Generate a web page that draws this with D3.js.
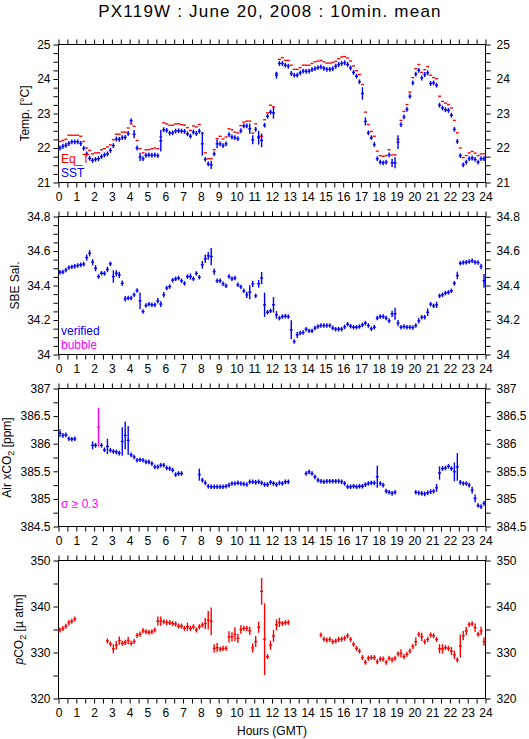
<!DOCTYPE html>
<html><head><meta charset="utf-8">
<script src="https://cdn.jsdelivr.net/npm/d3@7"></script>
<style>
body{margin:0;background:#fff;}
svg{display:block;font-family:"Liberation Sans",Arial,Helvetica,sans-serif;}
</style>
</head><body>
<svg id="chart" width="529" height="739"></svg>
<script>
// ---------- DATA (10-minute means, index i -> i/6 .. (i+1)/6 hours GMT) ----------
const hourTicks = d3.range(0, 25);               // x tick labels 0..24
const tempTicks = [21, 22, 23, 24, 25];
const salTicks  = [34, 34.2, 34.4, 34.6, 34.8];
const xco2Ticks = [384.5, 385, 385.5, 386, 386.5, 387];
const pco2Ticks = [320, 330, 340, 350];

const eqT = [
 22.19,22.22,22.25,22.37,22.37,22.37,22.37,22.34,22.19,22.00,21.93,21.83,
 21.86,21.86,21.95,21.98,22.03,22.09,22.24,22.40,22.40,22.46,22.46,22.58,
 22.70,22.63,22.22,21.98,21.86,21.95,21.95,21.98,22.00,21.98,22.32,22.73,
 22.70,22.66,22.66,22.70,22.70,22.68,22.66,22.59,22.51,22.64,22.61,22.68,
 22.43,21.86,21.69,21.69,21.95,22.27,22.34,22.26,22.32,22.56,22.53,22.46,
 22.44,22.65,22.75,22.78,22.78,22.43,22.70,22.34,22.34,22.82,23.02,23.24,
 23.19,24.16,24.57,24.62,24.54,24.54,24.40,24.28,24.28,24.33,24.40,24.40,
 24.40,24.45,24.50,24.52,24.54,24.50,24.46,24.46,24.48,24.51,24.59,24.64,
 24.65,24.61,24.52,24.38,24.24,24.13,23.84,23.04,22.68,22.48,22.34,21.91,
 21.78,21.76,21.78,21.95,21.80,21.80,22.25,22.80,23.06,23.26,23.62,24.04,
 24.30,24.42,24.19,24.27,24.36,24.11,24.04,24.01,23.50,23.35,23.30,23.26,
 23.16,22.80,22.44,22.00,21.72,21.78,21.86,21.90,21.85,21.78,21.83,21.83];

const sst = [
 22.00,22.05,22.08,22.13,22.18,22.18,22.18,22.13,21.99,21.83,21.70,21.64,
 21.67,21.69,21.75,21.80,21.83,21.93,22.07,22.26,22.25,22.30,22.31,22.42,
 22.79,22.40,22.00,21.74,21.69,21.79,21.80,21.79,21.80,21.78,22.21,22.53,
 22.51,22.43,22.44,22.49,22.50,22.49,22.48,22.41,22.34,22.46,22.42,22.49,
 22.12,21.67,21.54,21.51,21.83,22.12,22.12,22.07,22.12,22.39,22.32,22.30,
 22.27,22.50,22.64,22.64,22.56,22.24,22.54,22.30,22.22,22.66,22.92,23.04,
 23.02,24.11,24.45,24.45,24.40,24.37,24.16,24.11,24.11,24.18,24.23,24.22,
 24.23,24.27,24.30,24.33,24.35,24.31,24.28,24.28,24.30,24.37,24.42,24.45,
 24.47,24.42,24.32,24.19,24.08,23.92,23.58,22.77,22.44,22.30,22.10,21.69,
 21.59,21.57,21.59,21.80,21.57,21.57,22.17,22.68,22.90,23.12,23.50,23.89,
 24.14,24.25,24.03,24.13,24.18,23.87,23.89,23.82,23.24,23.16,23.11,23.09,
 22.95,22.54,22.19,21.78,21.51,21.59,21.69,21.71,21.67,21.59,21.69,21.69];
const sstErrTypical = 0.07;
const sstErrLarge = [[25,0.12],[27,0.12],[34,0.31],[48,0.34],[51,0.12],[53,0.13],[64,0.15],[65,0.13],
 [67,0.2],[68,0.2],[72,0.17],[73,0.1],[102,0.18],[103,0.12],[112,0.12],[113,0.16],[114,0.2]];

const sal = [
 34.477,34.478,34.490,34.504,34.508,34.512,34.516,34.520,34.524,34.562,34.587,34.535,
 34.500,34.452,34.471,34.470,34.493,34.526,34.452,34.471,34.462,34.413,34.323,34.327,
 34.327,34.346,34.371,34.311,34.249,34.284,34.292,34.288,34.288,34.311,34.292,34.346,
 34.385,34.394,34.431,34.439,34.443,34.427,34.412,34.452,34.452,34.439,34.470,34.448,
 34.520,34.555,34.572,34.568,34.481,34.427,34.427,34.410,34.398,34.452,34.439,34.443,
 34.404,34.392,34.369,34.346,34.361,34.410,34.340,34.410,34.443,34.288,34.245,34.253,
 34.288,34.230,34.211,34.220,34.222,34.220,34.143,34.075,34.114,34.124,34.128,34.147,
 34.137,34.137,34.153,34.162,34.168,34.168,34.168,34.168,34.153,34.147,34.147,34.147,
 34.160,34.176,34.164,34.158,34.158,34.162,34.172,34.182,34.168,34.149,34.158,34.211,
 34.220,34.220,34.211,34.195,34.236,34.236,34.182,34.158,34.162,34.158,34.158,34.157,
 34.168,34.195,34.216,34.216,34.245,34.292,34.282,34.288,34.340,34.346,34.356,34.360,
 34.369,34.413,34.458,34.529,34.533,34.535,34.539,34.543,34.535,34.533,34.510,34.427];
const salErrTypical = 0.013;
const salErrLarge = [[9,0.018],[10,0.018],[11,0.018],[12,0.018],[16,0.016],[18,0.036],[19,0.018],[20,0.018],
 [21,0.016],[22,0.016],[27,0.048],[33,0.016],[34,0.016],[35,0.016],[44,0.018],[48,0.022],[49,0.025],
 [50,0.022],[51,0.05],[52,0.018],[63,0.018],[64,0.04],[65,0.018],[67,0.022],[68,0.035],[69,0.07],
 [72,0.045],[73,0.022],[78,0.055],[80,0.018],[112,0.018],[113,0.035],[114,0.018],
 [121,0.016],[124,0.022],[127,0.018],[134,0.022],[142,0.016],[143,0.04]];

const xco2 = [
 386.19,386.15,386.16,386.09,386.08,386.09,null,null,null,null,null,385.97,
 385.97,386.30,385.97,385.89,385.95,385.88,385.86,385.85,385.83,386.04,386.15,386.06,
 385.80,385.76,385.70,385.71,385.70,385.67,385.67,385.64,385.58,385.58,385.61,385.61,
 385.56,385.55,385.52,385.44,385.46,385.46,null,null,null,null,null,385.44,
 385.34,385.29,385.23,385.22,385.22,385.22,385.22,385.22,385.23,385.25,385.28,385.28,
 385.29,385.28,385.27,385.26,385.31,385.31,385.30,385.31,385.29,385.26,385.26,385.30,
 385.28,385.26,385.29,385.28,385.31,385.31,null,null,null,null,null,385.46,
 385.49,385.46,385.40,385.34,385.32,385.31,385.32,385.32,385.32,385.32,385.32,385.31,
 385.28,385.22,385.22,385.23,385.22,385.23,385.23,385.26,385.28,385.29,385.29,385.40,
 385.28,385.25,385.14,385.12,385.10,385.12,null,null,null,null,null,null,
 385.12,385.11,385.10,385.09,385.11,385.13,385.14,385.20,385.47,385.55,385.56,385.59,
 385.55,385.49,385.58,385.30,385.28,385.28,385.25,385.16,385.01,384.88,384.86,384.92];
const xco2ErrTypical = 0.042;
const xco2ErrLarge = [[0,0.07],[11,0.07],[13,0.35],[16,0.14],[21,0.26],[22,0.25],[23,0.26],
 [47,0.11],[107,0.2],[127,0.07],[128,0.12],[133,0.17],[134,0.25],[139,0.06],[140,0.07]];

const pco2 = [
 334.9,335.2,335.7,336.5,336.8,337.3,null,null,null,null,null,null,
 null,null,null,null,332.5,331.85,330.8,331.6,332.6,332.0,332.2,332.6,
 332.0,332.4,333.7,334.0,334.75,334.5,334.4,334.5,334.9,336.8,336.8,336.7,
 336.55,336.5,336.3,336.2,335.75,335.75,335.25,335.6,335.25,335.6,334.9,335.6,
 336.0,336.3,337.0,336.8,330.9,331.05,330.7,330.9,330.9,333.4,333.4,334.0,
 333.1,335.0,335.25,335.25,334.7,331.0,332.4,335.5,343.3,332.9,329.1,331.6,
 333.6,336.0,336.55,336.3,336.5,336.55,null,null,null,null,null,null,
 null,null,null,null,333.8,332.9,332.7,332.85,332.35,332.5,332.85,332.9,
 333.1,333.65,332.85,331.8,330.9,330.3,328.9,327.9,328.75,328.9,328.9,328.0,
 328.6,328.6,327.9,328.75,328.4,328.75,329.7,329.8,329.1,329.6,330.3,331.3,
 332.35,333.95,333.4,332.35,332.85,333.8,333.65,332.85,330.8,330.8,331.05,330.9,
 330.3,329.5,328.4,331.4,333.65,334.7,336.1,336.25,335.4,333.95,334.7,332.35];
const pco2ErrTypical = 0.55;
const pco2ErrLarge = [[18,1.0],[19,0.9],[20,0.9],[23,0.8],[33,1.0],[34,1.0],[43,0.9],[49,1.2],
 [50,2.0],[51,3.0],[52,0.9],[53,1.0],[57,1.2],[58,1.0],[59,1.5],[60,1.0],[61,0.9],[64,0.9],
 [65,1.0],[66,1.2],[67,1.2],[68,2.9],[69,7.8],[71,1.0],[72,1.3],[73,1.2],[74,1.0],[115,0.9],
 [120,0.9],[122,0.9],[128,1.0],[129,1.0],[132,0.9],[133,0.9],[135,2.5],[136,1.0],[137,0.9],
 [140,0.9],[142,0.9],[143,0.9]];

// ---------- RENDER ----------
const RED = "#ff0000", BLUE = "#0000ff", MAGENTA = "#ff00ff";
const svg = d3.select("#chart");
const x = d3.scaleLinear().domain([0, 24]).range([58.5, 485.5]);
const PH = 138;
const fmt = d => String(+(+d).toFixed(3));

function errList(vals, typical, large) {
  const m = new Map(large);
  return vals.map((v, i) => m.has(i) ? m.get(i) : typical);
}

function rows(vals, errs) {
  return vals.map((v, i) => ({i, v, e: errs ? errs[i] : 0})).filter(d => d.v != null);
}

const panels = [
  {top: 44.5, domain: [21, 25], major: tempTicks, minor: 0.25},
  {top: 216.5, domain: [34, 34.8], major: salTicks, minor: 0.05},
  {top: 388.5, domain: [384.5, 387], major: xco2Ticks, minor: 0.25},
  {top: 560.5, domain: [320, 350], major: pco2Ticks, minor: 5}
];

const halfHours = d3.range(0, 24.001, 0.5);

panels.forEach((p, k) => {
  const y = d3.scaleLinear().domain(p.domain).range([p.top + PH, p.top]);
  p.y = y;
  const g = svg.append("g");
  const minorVals = d3.range(p.domain[0], p.domain[1] + p.minor / 2, p.minor);
  const isMajor = v => p.major.some(m => Math.abs(m - v) < 1e-6);

  const styleAxis = sel => {
    sel.select(".domain").remove();
    sel.selectAll("line").attr("stroke", "#000").attr("stroke-width", 1);
    sel.selectAll("text").attr("font-size", 12).attr("fill", "#000")
      .attr("font-family", '"Liberation Sans",Arial,sans-serif');
  };

  g.append("g").attr("transform", `translate(0,${p.top + PH})`)
    .call(d3.axisBottom(x).tickValues(halfHours).tickSize(5).tickPadding(5)
      .tickFormat(d => Number.isInteger(d) && hourTicks.includes(d) ? d : ""))
    .call(styleAxis);
  g.append("g").attr("transform", `translate(0,${p.top})`)
    .call(d3.axisTop(x).tickValues(halfHours).tickSize(5).tickFormat(""))
    .call(styleAxis);
  g.append("g").attr("transform", `translate(58.5,0)`)
    .call(d3.axisLeft(y).tickValues(minorVals).tickSize(5).tickPadding(3)
      .tickFormat(d => isMajor(d) ? fmt(d) : ""))
    .call(styleAxis);
  g.append("g").attr("transform", `translate(485.5,0)`)
    .call(d3.axisRight(y).tickValues(minorVals).tickSize(5).tickPadding(6)
      .tickFormat(d => isMajor(d) ? fmt(d) : ""))
    .call(styleAxis);

  g.append("rect").attr("x", 58.5).attr("y", p.top).attr("width", 427).attr("height", PH)
    .attr("fill", "none").attr("stroke", "#000").attr("stroke-width", 1);
});

function drawSeries(p, data, color, withBars, colorFn) {
  const g = svg.append("g").attr("stroke-width", 1.4).attr("fill", "none");
  const y = p.y;
  g.selectAll("line.h").data(data).join("line").attr("class", "h")
    .attr("x1", d => x(d.i / 6)).attr("x2", d => x((d.i + 1) / 6))
    .attr("y1", d => y(d.v)).attr("y2", d => y(d.v))
    .attr("stroke", d => colorFn ? colorFn(d) : color);
  if (withBars) {
    g.selectAll("line.v").data(data).join("line").attr("class", "v")
      .attr("x1", d => x((d.i + 0.5) / 6)).attr("x2", d => x((d.i + 0.5) / 6))
      .attr("y1", d => y(d.v - d.e)).attr("y2", d => y(d.v + d.e))
      .attr("stroke", d => colorFn ? colorFn(d) : color);
  }
}

drawSeries(panels[0], rows(eqT), RED, false);
drawSeries(panels[0], rows(sst, errList(sst, sstErrTypical, sstErrLarge)), BLUE, true);
drawSeries(panels[1], rows(sal, errList(sal, salErrTypical, salErrLarge)), BLUE, true);
drawSeries(panels[2], rows(xco2, errList(xco2, xco2ErrTypical, xco2ErrLarge)), BLUE, true,
  d => d.e >= 0.3 ? MAGENTA : BLUE);
drawSeries(panels[3], rows(pco2, errList(pco2, pco2ErrTypical, pco2ErrLarge)), RED, true);

// ---------- TEXT ----------
svg.append("text").attr("x", 270).attr("y", 17).attr("text-anchor", "middle")
  .attr("font-size", 17).attr("letter-spacing", 1.2).text("PX119W : June 20, 2008 : 10min. mean");

function yLabel(p, xpos, build) {
  const t = svg.append("text").attr("text-anchor", "middle").attr("font-size", 12)
    .attr("transform", `translate(${xpos},${p.top + PH / 2}) rotate(-90)`);
  build(t);
}
yLabel(panels[0], 29, t => t.text("Temp. [°C]"));
yLabel(panels[1], 19, t => t.text("SBE Sal."));
yLabel(panels[2], 11, t => {
  t.append("tspan").text("Air xCO");
  t.append("tspan").attr("font-size", 9).attr("dy", 3).text("2");
  t.append("tspan").attr("dy", -3).text(" [ppm]");
});
yLabel(panels[3], 23, t => {
  t.append("tspan").attr("font-style", "italic").text("p");
  t.append("tspan").text("CO");
  t.append("tspan").attr("font-size", 9).attr("dy", 3).text("2");
  t.append("tspan").attr("dy", -3).text(" [µ atm]");
});

const leg = (xp, yp, txt, col) => svg.append("text").attr("x", xp).attr("y", yp)
  .attr("font-size", 12).attr("fill", col).text(txt);
leg(61, 163, "Eq_T", RED);
leg(61, 177, "SST", BLUE);
leg(61, 335, "verified", BLUE);
leg(61, 348.5, "bubble", MAGENTA);
leg(61, 508, "σ ≥ 0.3", MAGENTA);

svg.append("text").attr("x", 272).attr("y", 735).attr("text-anchor", "middle")
  .attr("font-size", 12).text("Hours (GMT)");
</script>
</body></html>
